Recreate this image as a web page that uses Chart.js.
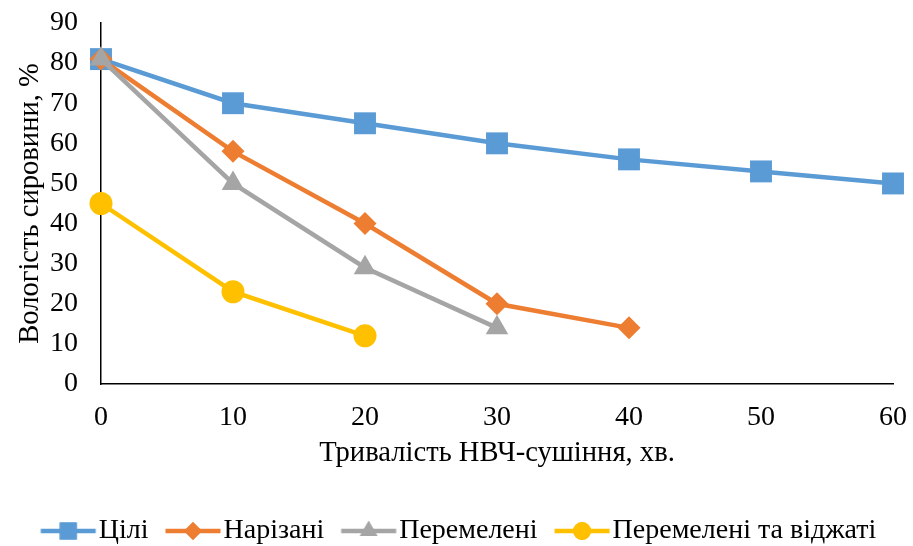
<!DOCTYPE html>
<html>
<head>
<meta charset="utf-8">
<script src="https://cdn.jsdelivr.net/npm/chart.js@4/dist/chart.umd.min.js"></script>
<style>
  html, body { margin: 0; padding: 0; background: #fff; }
  #wrap { width: 913px; height: 546px; }
</style>
</head>
<body>
<div id="wrap"><canvas id="c"></canvas></div>
<script>
// Drying time, minutes
const minutes = [0, 10, 20, 30, 40, 50, 60];
// Moisture content of raw material, %
const whole = [81, 70, 65, 60, 56, 53, 50];
const sliced = [81, 58, 40, 20, 14];
const ground = [81, 50, 29, 14];
const groundPressed = [45, 23, 12];

const seriesNames = ['Цілі', 'Нарізані', 'Перемелені', 'Перемелені та віджаті'];
const colors = ['#5B9BD5', '#ED7D31', '#A5A5A5', '#FFC000'];
const markers = ['rect', 'rectRot', 'triangle', 'circle'];
const radii = [15.5, 11.5, 13, 11.5];

const serif = '"Liberation Serif", "Times New Roman", serif';
const FONT_SIZE = 28;
const TITLE_SIZE = 28.6;
const PLOT_BOTTOM = 384;
const PAD_BOTTOM = -9;

function toPoints(values) {
  return values.map((v, i) => ({ x: minutes[i], y: v }));
}

// Legend swatch: a short line with the series marker in the middle.
// The image is wider than the swatch so the swatch sits close to its label.
function legendSwatch(color, style, r) {
  const cv = document.createElement('canvas');
  cv.width = 90; cv.height = 26;
  const ctx = cv.getContext('2d');
  const x0 = 30.5, x1 = 85.5, cy = 13;
  ctx.strokeStyle = color;
  ctx.lineWidth = 4.5;
  ctx.beginPath();
  ctx.moveTo(x0, cy); ctx.lineTo(x1, cy);
  ctx.stroke();
  ctx.fillStyle = color;
  Chart.helpers.drawPoint(ctx, { pointStyle: style, radius: r * 0.78, rotation: 0, borderWidth: 0 }, (x0 + x1) / 2, cy);
  ctx.fill();
  return cv;
}

const allSeries = [whole, sliced, ground, groundPressed];
const datasets = allSeries.map((vals, i) => ({
  label: seriesNames[i],
  data: toPoints(vals),
  borderColor: colors[i],
  backgroundColor: colors[i],
  borderWidth: 4.5,
  pointStyle: markers[i],
  pointRadius: radii[i],
  pointHoverRadius: radii[i],
  pointBorderWidth: 0,
  tension: 0,
  clip: false,
  order: 4 - i
}));

const swatches = colors.map((c, i) => legendSwatch(c, markers[i], radii[i]));

new Chart(document.getElementById('c'), {
  type: 'line',
  data: { datasets },
  options: {
    responsive: true,
    maintainAspectRatio: false,
    animation: false,
    layout: { padding: { left: 9, right: 20, top: 0, bottom: PAD_BOTTOM } },
    plugins: {
      tooltip: { enabled: false },
      legend: {
        position: 'bottom',
        labels: {
          font: { family: serif, size: FONT_SIZE },
          color: '#000',
          usePointStyle: true,
          pointStyleWidth: 59,
          padding: 2,
          generateLabels(chart) {
            return chart.data.datasets.map((ds, i) => ({
              text: ds.label,
              pointStyle: swatches[i],
              fillStyle: ds.backgroundColor,
              strokeStyle: ds.borderColor,
              lineWidth: 0,
              hidden: false,
              datasetIndex: i,
              fontColor: '#000'
            }));
          }
        }
      }
    },
    scales: {
      x: {
        type: 'linear',
        min: 0, max: 60,
        ticks: { stepSize: 10, font: { family: serif, size: FONT_SIZE }, color: '#000', padding: 17 },
        grid: { display: false, drawTicks: false },
        border: { color: '#000', width: 1.5 },
        title: { display: true, text: 'Тривалість НВЧ-сушіння, хв.', font: { family: serif, size: TITLE_SIZE }, color: '#000', padding: { top: 0, bottom: 35 - PAD_BOTTOM } },
        afterFit(scale) {
          scale.height = scale.chart.height - PAD_BOTTOM - scale.chart.legend.height - PLOT_BOTTOM;
          scale.paddingRight = 0;
        }
      },
      y: {
        min: 0, max: 90,
        ticks: { stepSize: 10, font: { family: serif, size: FONT_SIZE }, color: '#000', padding: 23 },
        grid: { display: false, drawTicks: false },
        border: { color: '#000', width: 1.5 },
        title: { display: true, text: 'Вологість сировини, %', font: { family: serif, size: TITLE_SIZE }, color: '#000', padding: { top: 4, bottom: 0 } },
        afterFit(scale) {
          scale.width = 92;
          scale.paddingTop = 23;
        }
      }
    }
  }
});
</script>
</body>
</html>
